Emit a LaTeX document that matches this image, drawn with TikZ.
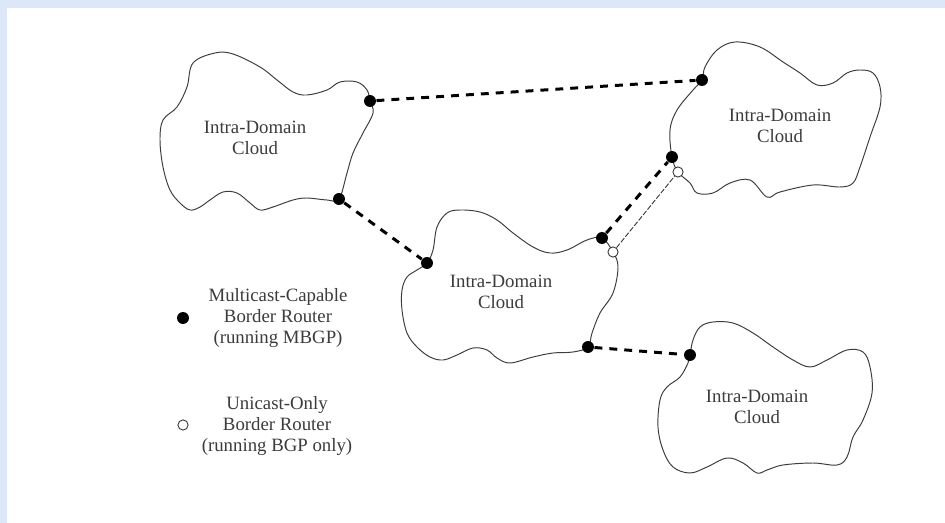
\documentclass[tikz,border=0pt]{standalone}
\usepackage{fontspec}
\setmainfont{Liberation Serif}
\definecolor{bgblue}{RGB}{220,232,247}
\definecolor{inkgray}{RGB}{60,60,60}
\begin{document}
\begin{tikzpicture}[x=0.02cm,y=-0.02cm,line width=0.6pt]
  \tikzstyle{mrouter}=[circle,fill=black,inner sep=0pt,minimum size=6.8pt];
  \tikzstyle{urouter}=[circle,draw=black!80,fill=white,line width=0.5pt,inner sep=0pt,minimum size=5.8pt];
  \tikzstyle{cloudtext}=[align=center,text=inkgray,font=\fontsize{10.7}{12}\selectfont];
  \tikzstyle{cloudline}=[draw=inkgray,line width=0.55pt];
  \tikzstyle{mlink}=[line width=1.7pt,dash pattern=on 4.5pt off 4pt];
  \tikzstyle{ulink}=[line width=0.5pt,draw=black!80,dash pattern=on 3pt off 1pt];

  \useasboundingbox (0,0) rectangle (945,523);
  \fill[bgblue] (0,0) rectangle (945,523);
  \fill[white] (7,8) rectangle (945,523);

  \draw[cloudline] plot[smooth cycle,tension=0.6] coordinates {
    (193,63) (215,53) (233,54) (260,67) (277,80) (293,92) (307,95) (327,90)
    (340,82) (357,82) (367,90) (370,101) (373,113) (363,133) (353,153)
    (347,173) (339,199) (327,200) (307,198) (293,200) (273,207) (260,210)
    (250,203) (237,193) (223,192) (210,200) (200,207) (190,210) (180,203)
    (170,190) (163,167) (160,140) (163,120) (177,107) (187,87)};
  \draw[cloudline] plot[smooth cycle,tension=0.6] coordinates {
    (702,80) (693,90) (677,110) (670,130) (672,157) (678,172) (690,183)
    (697,193) (713,193) (730,183) (750,180) (767,197) (780,192) (813,185)
    (840,187) (853,183) (860,167) (870,137) (880,107) (880,87) (873,73)
    (860,70) (847,73) (833,83) (817,85) (800,73) (783,62) (760,47) (735,42)
    (717,50) (705,67)};
  \draw[cloudline] plot[smooth cycle,tension=0.6] coordinates {
    (427,263) (433,250) (437,227) (447,213) (460,210) (480,212) (497,220)
    (513,233) (533,247) (550,253) (567,250) (587,240) (602,238) (613,252)
    (618,267) (613,293) (600,313) (592,333) (588,347) (573,352) (553,353)
    (533,357) (510,363) (497,358) (487,350) (473,348) (457,355) (443,360)
    (430,357) (417,347) (407,333) (402,310) (402,290) (407,277) (417,270)};
  \draw[cloudline] plot[smooth cycle,tension=0.6] coordinates {
    (690,355) (693,340) (700,327) (713,322) (733,323) (753,333) (773,347)
    (793,360) (810,367) (827,360) (847,350) (863,352) (870,367) (872,393)
    (863,420) (853,437) (847,457) (837,465) (813,463) (783,465) (767,470)
    (757,473) (743,463) (727,458) (707,467) (690,473) (673,467) (663,450)
    (658,427) (660,400) (667,387) (680,377) (688,363)};

  \node[cloudtext] (t1) at (255,138) {Intra-Domain\\Cloud};
  \node[cloudtext] (t2) at (780,126) {Intra-Domain\\Cloud};
  \node[cloudtext] (t3) at (501,292) {Intra-Domain\\Cloud};
  \node[cloudtext] (t4) at (757,407) {Intra-Domain\\Cloud};

  \node[mrouter] (r1a) at (370,101) {};
  \node[mrouter] (r1b) at (339,199) {};
  \node[mrouter] (r2a) at (702,80) {};
  \node[mrouter] (r2b) at (672,157) {};
  \node[urouter] (u2) at (678,172) {};
  \node[mrouter] (r3a) at (427,263) {};
  \node[mrouter] (r3b) at (602,238) {};
  \node[urouter] (u3) at (613,252) {};
  \node[mrouter] (r3c) at (588,347) {};
  \node[mrouter] (r4) at (690,355) {};

  \draw[mlink] (r1a) -- (r2a);
  \draw[mlink] (r1b) -- (r3a);
  \draw[mlink] (r3b) -- (r2b);
  \draw[mlink] (r3c) -- (r4);
  \draw[ulink] (u3) -- (u2);

  \node[mrouter] (lm) at (183,318) {};
  \node[urouter] (lu) at (183,425) {};
  \node[cloudtext] (tm) at (278,318) {Multicast-Capable\\Border Router\\(running MBGP)};
  \node[cloudtext] (tu) at (277,426) {Unicast-Only\\Border Router\\(running BGP only)};
\end{tikzpicture}
\end{document}
